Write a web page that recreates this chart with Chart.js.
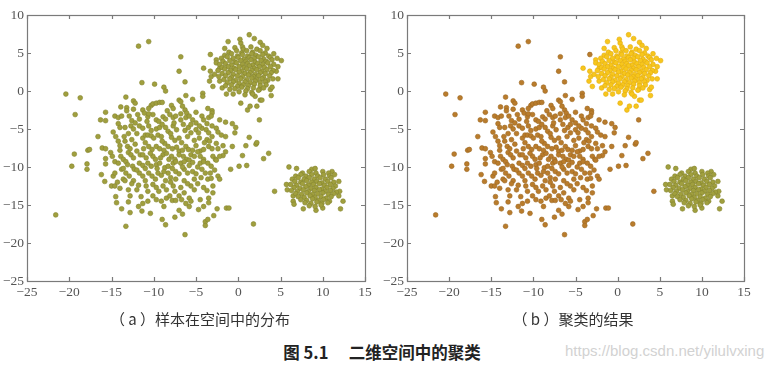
<!DOCTYPE html>
<html>
<head>
<meta charset="utf-8">
<script src="https://cdn.jsdelivr.net/npm/chart.js@4"></script>
<style>
  body { margin: 0; width: 771px; height: 371px; background: #fff; position: relative; overflow: hidden; }
  .panel { position: absolute; top: 0; }
  .cap { position: absolute; font-family: "Noto Sans CJK SC", sans-serif; font-size: 15px; color: #333; white-space: pre; transform: translateX(-50%); }
  #title { font-weight: bold; color: #222; font-size: 16.5px; }
  #mark { position: absolute; left: 565px; top: 342px; font-family: "Liberation Sans Narrow", "Liberation Sans", sans-serif; font-size: 15px; color: #d2d2d2; }
</style>
</head>
<body>
<div class="panel" style="left:0"><canvas id="chartA" width="380" height="310"></canvas></div>
<div class="panel" style="left:378px"><canvas id="chartB" width="393" height="310"></canvas></div>
<div class="cap" style="left:200px;top:308px">（ a ）样本在空间中的分布</div>
<div class="cap" style="left:573px;top:308px">（ b ）聚类的结果</div>
<div class="cap" id="title" style="left:382px;top:340px">图 5.1　 二维空间中的聚类</div>
<div id="mark">https://blog.csdn.net/yilulvxing</div>
<script>
const xTicks = [-25, -20, -15, -10, -5, 0, 5, 10, 15];
const yTicks = [-25, -20, -15, -10, -5, 0, 5, 10];

// large sparse cluster (brown in panel b)
const bigCluster = [
  [-21.6, -16.3], [-20.4, -0.4], [-18.7, -0.9], [-19.3, -3.1], [-19.4, -8.3], [-19.7, -9.9],
  [-17.8, -7.8], [-17.6, -7.7], [-17.9, -9.6], [-17.9, -10.3], [-11.8, 5.9], [-10.6, 6.5],
  [-6.8, 4.5], [-7.0, 2.6], [-6.3, 1.2], [-11.4, 1.1], [-9.9, 0.9], [-8.8, 0.5], [-8.6, 0.0],
  [-3.3, 4.8], [-4.2, -0.3], [-4.2, -0.7],
  [-16.6, -6.0], [-16.3, -3.8], [-15.7, -2.8], [-15.7, -3.9], [-16.1, -7.5], [-15.7, -7.6],
  [-15.7, -8.9], [-15.7, -9.6], [-16.2, -11.0], [-15.8, -11.9], [-15.0, -12.5], [-14.5, -13.9],
  [-14.4, -14.7], [-13.8, -15.5], [-13.3, -17.8], [-12.8, -16.0], [-11.5, -13.9], [-11.3, -14.8],
  [-11.4, -15.8], [-10.4, -16.1], [-9.0, -16.9], [-8.6, -17.6], [-9.1, -14.5], [-7.8, -14.4],
  [-7.4, -14.4], [-7.5, -16.6], [-7.0, -15.7], [-6.3, -18.9], [-6.6, -16.2], [-5.8, -15.2],
  [-4.7, -15.6], [-4.1, -15.2], [-3.9, -17.2], [-3.9, -17.7], [-3.6, -16.9], [-2.9, -16.4],
  [-2.5, -15.5], [-1.4, -15.4], [-1.1, -15.4], [1.8, -17.5], [4.3, -13.2], [-0.9, -10.3],
  [0.1, -9.9], [1.0, -9.8], [0.9, -7.2], [1.3, -6.1], [2.1, -7.0], [2.2, -6.8], [3.0, -8.9],
  [3.6, -8.2], [2.5, -3.8], [0.5, -8.5], [-0.7, -7.3], [-0.4, -5.5], [-0.3, -4.8], [-0.7, -4.3],
  [-1.5, -4.1], [-1.5, -6.0], [-1.8, -7.2], [-1.5, -8.0], [-1.8, -8.5],
  [-13.3, -0.8], [-12.4, -1.3], [-12.2, -1.6], [-13.9, -2.1], [-13.2, -2.2], [-13.2, -2.6],
  [-11.3, -2.5], [-10.3, -1.9], [-10.1, -1.7], [-9.7, -1.6], [-9.3, -1.5], [-9.0, -1.5],
  [-10.6, -2.3], [-7.9, -1.9], [-7.7, -2.3], [-7.0, -1.2], [-6.8, -1.4], [-6.2, -0.6],
  [-5.4, -1.1], [-6.3, -2.5], [-6.1, -2.9], [-3.1, -2.6], [-3.1, -2.9], [-3.6, -2.3],
  [-2.2, -3.8], [-14.6, -3.3], [-14.2, -3.5], [-13.8, -3.3],
  [-12.9, -3.3], [-12.6, -3.9], [-11.9, -3.1], [-11.7, -3.7], [-11.1, -2.9], [-10.7, -3.4],
  [-10.1, -3.1], [-9.7, -3.8], [-9.4, -4.0], [-8.9, -3.4], [-8.6, -3.7], [-8.1, -3.1],
  [-7.7, -3.5], [-7.4, -3.3], [-6.8, -3.0], [-6.2, -3.5], [-5.8, -3.3], [-5.4, -3.8],
  [-5.0, -4.2], [-4.3, -3.3], [-4.1, -3.8], [-3.5, -3.5], [-3.2, -3.3], [-3.7, -4.3],
  [-3.1, -4.6], [-4.3, -4.9], [-14.2, -4.3], [-14.0, -4.8], [-13.4, -4.8], [-12.7, -4.6],
  [-12.4, -5.0], [-11.7, -4.6], [-11.3, -4.9], [-10.6, -4.6], [-10.3, -5.2], [-9.7, -5.0],
  [-9.3, -4.8], [-8.6, -4.8], [-8.3, -5.3], [-7.7, -4.6], [-7.3, -5.1], [-6.5, -4.4],
  [-6.3, -5.2], [-5.9, -4.8], [-5.6, -5.5], [-5.0, -5.1], [-4.7, -5.5], [-3.8, -5.1],
  [-3.5, -5.5], [-2.6, -4.9], [-2.4, -5.4], [-3.1, -6.0], [-14.8, -5.4], [-14.5, -6.0],
  [-13.5, -6.0],
  [-14.2, -6.6], [-14.0, -7.2], [-13.4, -6.6], [-13.1, -7.3], [-12.6, -6.4], [-12.2, -7.0],
  [-12.0, -7.9], [-11.6, -8.4], [-11.3, -6.2], [-11.0, -5.8], [-10.7, -5.8], [-10.3, -5.9],
  [-10.0, -6.2], [-9.5, -5.8], [-9.1, -6.0], [-10.6, -7.3], [-10.2, -7.7], [-9.7, -7.3],
  [-9.3, -7.6], [-8.7, -6.9], [-8.3, -7.3], [-7.9, -6.1], [-7.5, -6.5], [-7.0, -6.2],
  [-6.7, -6.8], [-7.3, -7.4], [-7.0, -7.9], [-6.2, -7.3], [-5.9, -7.7], [-5.2, -6.5],
  [-5.0, -7.2], [-4.5, -7.9], [-4.1, -7.7], [-3.5, -7.3], [-3.1, -7.6], [-3.7, -6.4],
  [-3.4, -6.6], [-2.6, -6.9], [-2.4, -7.6], [-4.5, -8.6], [-4.1, -9.0], [-3.0, -8.6],
  [-2.7, -9.0], [-2.2, -8.6], [-15.1, -8.1], [-14.9, -8.6], [-13.9, -8.6], [-13.6, -9.0],
  [-13.0, -8.1], [-12.7, -8.4], [-11.3, -8.4], [-10.9, -8.8], [-10.1, -8.6], [-9.8, -9.0],
  [-8.9, -8.4], [-8.5, -8.2], [-7.9, -8.6], [-7.5, -9.0], [-6.5, -8.6], [-6.1, -9.0],
  [-5.6, -8.4], [-5.2, -8.6],
  [-14.6, -9.3], [-14.2, -9.5], [-13.3, -9.3], [-13.1, -9.7], [-12.5, -9.9], [-12.3, -10.3],
  [-13.8, -10.3], [-13.3, -10.8], [-12.9, -11.2], [-11.7, -9.5], [-11.3, -9.8], [-10.7, -9.5],
  [-10.3, -9.9], [-9.7, -9.7], [-9.3, -9.5], [-8.7, -10.1], [-8.3, -9.9], [-7.7, -9.5],
  [-7.4, -9.3], [-6.8, -9.5], [-6.4, -9.3], [-5.8, -9.1], [-5.4, -9.4], [-4.5, -9.5],
  [-4.1, -9.3], [-3.6, -9.5], [-3.2, -9.9], [-2.6, -9.1], [-11.7, -10.8], [-11.3, -11.2],
  [-10.6, -10.8], [-10.2, -11.2], [-9.5, -10.8], [-9.1, -11.1], [-8.3, -10.8], [-8.0, -11.4],
  [-7.4, -10.6], [-7.0, -10.9], [-6.4, -10.3], [-6.0, -10.8], [-5.4, -10.6], [-5.0, -10.9],
  [-4.3, -10.3], [-3.9, -10.8], [-3.3, -10.8], [-2.4, -11.2], [-2.2, -11.6], [-3.6, -11.6],
  [-3.2, -11.5], [-14.8, -11.2], [-14.6, -10.8], [-13.6, -11.6], [-13.4, -11.8],
  [-14.6, -12.5], [-14.3, -12.0], [-13.0, -13.0], [-12.8, -13.8], [-12.0, -13.0], [-10.9, -12.5],
  [-10.7, -13.2], [-10.1, -12.3], [-9.7, -12.7], [-8.9, -12.5], [-8.5, -13.0], [-7.7, -12.5],
  [-7.5, -13.2], [-6.8, -12.7], [-6.4, -13.4], [-5.6, -12.5], [-5.2, -13.0], [-4.1, -12.7],
  [-3.7, -13.1], [-3.0, -12.5], [-10.1, -13.8], [-9.7, -14.3], [-8.5, -14.1], [-8.1, -13.8],
  [-7.0, -13.8], [-6.7, -14.3], [-5.8, -14.1], [-5.6, -14.5], [-4.5, -14.3], [-3.5, -14.1],
  [-3.5, -14.7], [-10.7, -14.5],
  [-12.0, -5.6], [-11.0, -6.8], [-9.0, -6.6], [-8.0, -5.6], [-6.0, -6.0], [-4.6, -6.2],
  [-12.8, -7.6], [-11.2, -7.6], [-8.8, -7.8], [-7.8, -7.6], [-6.6, -7.8], [-5.4, -7.8],
  [-12.4, -8.8], [-10.4, -8.2], [-9.2, -8.8], [-8.2, -9.0], [-7.0, -8.4], [-5.8, -9.8],
  [-4.8, -8.0], [-12.0, -10.4], [-11.0, -10.2], [-9.6, -10.2], [-8.8, -10.6], [-7.8, -10.2],
  [-6.6, -10.0], [-4.8, -10.0], [-12.4, -11.8], [-11.0, -11.8], [-9.8, -11.6], [-8.6, -11.8],
  [-7.4, -11.6], [-6.4, -11.8], [-5.2, -11.6], [-4.4, -11.4], [-11.8, -12.4], [-9.4, -13.2],
  [-8.0, -12.0], [-6.0, -12.2], [-4.8, -12.2], [-10.8, -4.0], [-9.0, -4.4], [-7.6, -4.2],
  [-6.8, -3.8], [-5.6, -4.4], [-4.6, -4.6], [-12.2, -4.2], [-13.0, -5.6], [-14.0, -7.8],
  [-13.6, -10.2], [-10.6, -3.0], [-8.4, -2.6], [-6.6, -2.0], [-5.0, -2.8], [-12.4, -2.4],
  [-4.0, -6.8], [-2.0, -5.8], [-2.8, -10.4], [-3.0, -13.4], [-6.2, -14.8], [-8.8, -15.2],
  [-11.8, -15.2], [-13.0, -14.6], [-12.6, -12.2], [-14.0, -12.8]
];

// dense upper cluster (yellow in panel b)
const topCluster = [
  [1.3, 7.4], [-1.2, 6.5], [1.9, 6.9], [2.6, 6.4], [0.3, 6.3], [0.5, 5.8], [-2.6, 4.1],
  [-2.6, 3.7], [-4.1, 3.0], [-3.3, 2.6], [-3.4, 1.3], [-2.2, 3.0], [-3.0, 0.6], [-3.2, 1.9],
  [-2.2, 1.3], [-1.9, 0.4], [-1.0, 0.2], [-0.6, -0.4], [4.2, 4.9], [5.1, 4.0], [4.7, 3.2],
  [4.5, 2.6], [4.7, 1.6], [3.8, 0.2], [4.0, 0.5], [2.6, -1.2], [2.8, -1.2], [2.0, -0.7],
  [0.3, -1.6], [1.1, -2.5], [2.2, -2.0], [1.4, -2.0], [-1.6, 5.6], [3.4, 5.6], [-2.8, 2.2],
  [4.6, 4.3], [3.9, -0.6], [-1.4, -0.4], [0.2, 6.8], [2.9, 6.0],
  [-0.4, 5.7], [0.6, 5.5], [1.5, 5.8], [2.2, 5.5],
  [-1.1, 5.1], [-0.2, 5.3], [0.4, 5.0], [1.0, 5.3], [1.7, 5.1], [2.6, 5.3], [3.2, 5.0],
  [-1.6, 4.7], [-0.8, 4.9], [-0.1, 4.6], [0.5, 4.8], [1.1, 4.6], [1.6, 4.9], [2.1, 4.7], [2.9, 4.8], [3.6, 4.6],
  [-2.0, 4.3], [-1.3, 4.5], [-0.6, 4.3], [0.0, 4.4], [0.7, 4.2], [1.3, 4.4], [1.9, 4.3], [2.4, 4.5], [3.0, 4.2], [3.8, 4.4],
  [-1.8, 3.9], [-1.0, 4.0], [-0.4, 3.8], [0.3, 4.0], [0.9, 3.9], [1.5, 4.1], [2.0, 3.8], [2.7, 4.0], [3.3, 3.9], [4.0, 4.1],
  [-2.2, 3.5], [-1.5, 3.6], [-0.8, 3.4], [-0.2, 3.7], [0.5, 3.5], [1.1, 3.6], [1.7, 3.4], [2.3, 3.6], [2.9, 3.5], [3.5, 3.7], [4.2, 3.5],
  [-1.9, 3.1], [-1.2, 3.2], [-0.5, 3.0], [0.1, 3.2], [0.7, 3.1], [1.3, 3.3], [1.9, 3.0], [2.5, 3.2], [3.1, 3.1], [3.8, 3.2],
  [-2.4, 2.7], [-1.6, 2.9], [-0.9, 2.7], [-0.3, 2.8], [0.4, 2.6], [1.0, 2.9], [1.6, 2.7], [2.2, 2.8], [2.8, 2.6], [3.4, 2.8], [4.1, 2.7],
  [-1.9, 2.3], [-1.2, 2.4], [-0.6, 2.2], [0.1, 2.5], [0.8, 2.3], [1.4, 2.4], [2.0, 2.2], [2.6, 2.4], [3.2, 2.3], [3.9, 2.4],
  [-2.3, 1.9], [-1.5, 2.0], [-0.8, 1.8], [-0.1, 2.0], [0.5, 1.9], [1.2, 2.1], [1.8, 1.9], [2.4, 2.0], [3.0, 1.8], [3.7, 2.0],
  [-1.7, 1.5], [-1.0, 1.6], [-0.3, 1.4], [0.3, 1.6], [1.0, 1.5], [1.6, 1.7], [2.2, 1.5], [2.8, 1.6], [3.5, 1.4], [4.1, 1.6],
  [-1.3, 1.1], [-0.6, 1.2], [0.1, 1.0], [0.8, 1.2], [1.4, 1.1], [2.0, 1.3], [2.6, 1.1], [3.2, 1.2],
  [-1.5, 0.7], [-0.8, 0.8], [-0.1, 0.6], [0.6, 0.8], [1.2, 0.7], [1.9, 0.9], [2.6, 0.7], [3.3, 0.8],
  [-0.4, 0.3], [0.4, 0.5], [1.1, 0.3], [1.8, 0.4], [2.5, 0.2], [3.0, 0.4],
  [0.1, -0.1], [0.9, 0.0], [1.6, -0.2], [2.4, 0.1], [0.8, -0.5], [1.7, -0.4]
];

// dense lower-right cluster (olive in both panels)
const rightCluster = [
  [6.0, -10.0], [5.7, -12.3], [5.8, -13.0], [6.5, -13.8], [6.5, -14.5], [6.6, -14.9], [7.7, -15.5],
  [9.2, -15.7], [10.0, -15.4], [12.1, -15.5], [12.4, -14.5], [11.9, -13.8], [12.0, -13.2],
  [11.9, -11.9], [11.1, -10.6], [8.7, -10.3], [6.9, -10.2], [9.1, -10.2],
  [7.6, -10.8], [8.4, -10.6], [9.2, -10.8], [10.0, -10.6], [10.7, -10.8],
  [6.8, -11.2], [7.4, -11.0], [8.0, -11.2], [8.7, -11.0], [9.4, -11.2], [10.1, -11.0], [10.8, -11.2], [11.4, -11.0],
  [6.4, -11.6], [7.1, -11.4], [7.8, -11.6], [8.4, -11.4], [9.0, -11.6], [9.7, -11.4], [10.3, -11.6], [11.0, -11.4],
  [6.7, -11.9], [7.4, -12.0], [8.1, -11.8], [8.7, -12.0], [9.3, -11.9], [9.9, -12.1], [10.6, -11.9], [11.3, -12.0],
  [6.2, -12.3], [6.9, -12.4], [7.6, -12.2], [8.3, -12.4], [8.9, -12.3], [9.6, -12.2], [10.2, -12.4], [10.9, -12.3], [11.5, -12.5],
  [6.6, -12.7], [7.3, -12.8], [8.0, -12.6], [8.6, -12.8], [9.2, -12.7], [9.9, -12.9], [10.5, -12.7], [11.2, -12.8],
  [6.3, -13.1], [7.0, -13.2], [7.7, -13.0], [8.3, -13.2], [9.0, -13.1], [9.6, -13.0], [10.3, -13.2], [10.9, -13.1], [11.6, -13.3],
  [6.8, -13.5], [7.5, -13.6], [8.1, -13.4], [8.8, -13.6], [9.4, -13.5], [10.0, -13.4], [10.7, -13.6], [11.3, -13.5],
  [7.1, -13.9], [7.8, -14.0], [8.5, -13.8], [9.1, -14.0], [9.8, -13.9], [10.4, -14.1], [11.0, -13.9],
  [7.4, -14.3], [8.1, -14.4], [8.8, -14.2], [9.5, -14.4], [10.1, -14.3], [10.8, -14.5],
  [7.9, -14.7], [8.6, -14.8], [9.3, -14.6], [9.9, -14.8], [10.6, -14.7],
  [8.4, -15.1], [9.1, -15.2], [9.8, -15.0]
];

const olive = '#a09f3e';
const oliveEdge = '#85842f';
const brown = '#b97c2c';
const brownEdge = '#9c6620';
const yellow = '#f7c61c';
const yellowEdge = '#e2ad12';

Chart.defaults.font.family = "'Liberation Serif', 'Times New Roman', serif";

const toPts = arr => arr.map(p => ({ x: p[0], y: p[1] }));

const boxTicks = {
  id: 'boxTicks',
  afterDraw(chart) {
    const { ctx, chartArea: a, scales: { x, y } } = chart;
    ctx.save();
    ctx.strokeStyle = '#7a7a7a';
    ctx.lineWidth = 1.2;
    ctx.strokeRect(a.left + 0.5, a.top + 0.5, a.right - a.left, a.bottom - a.top);
    ctx.beginPath();
    x.ticks.forEach(t => {
      const px = Math.round(x.getPixelForValue(t.value)) + 0.5;
      ctx.moveTo(px, a.bottom); ctx.lineTo(px, a.bottom - 4);
      ctx.moveTo(px, a.top); ctx.lineTo(px, a.top + 4);
    });
    y.ticks.forEach(t => {
      const py = Math.round(y.getPixelForValue(t.value)) + 0.5;
      ctx.moveTo(a.left, py); ctx.lineTo(a.left + 4, py);
      ctx.moveTo(a.right, py); ctx.lineTo(a.right - 4, py);
    });
    ctx.stroke();
    ctx.restore();
  }
};

function makeChart(id, datasets, yWidth, rightPad) {
  const tickFont = { family: "'Liberation Serif', 'Times New Roman', serif", size: 13.5 };
  const fmt = v => String(v).replace('-', '\u2212');
  return new Chart(document.getElementById(id), {
    type: 'scatter',
    data: { datasets },
    options: {
      responsive: false,
      animation: false,
      layout: { padding: { top: 15, right: rightPad, left: 0, bottom: 0 } },
      plugins: { legend: { display: false }, tooltip: { enabled: false } },
      elements: { point: { radius: 2.4, borderWidth: 0.6 } },
      scales: {
        x: {
          type: 'linear', min: -25, max: 15,
          afterBuildTicks: s => { s.ticks = xTicks.map(v => ({ value: v })); },
          afterFit: s => { s.height = 29; },
          grid: { display: false, drawTicks: false },
          border: { display: false },
          ticks: { font: tickFont, color: '#555', padding: 3, maxRotation: 0, callback: fmt }
        },
        y: {
          type: 'linear', min: -25, max: 10,
          afterBuildTicks: s => { s.ticks = yTicks.map(v => ({ value: v })); },
          afterFit: s => { s.width = yWidth; },
          grid: { display: false, drawTicks: false },
          border: { display: false },
          ticks: { font: tickFont, color: '#555', padding: 3, callback: fmt }
        }
      }
    },
    plugins: [boxTicks]
  });
}

const ds = (arr, bg, edge) => ({ data: toPts(arr), backgroundColor: bg, borderColor: edge });

makeChart('chartA', [
  ds(bigCluster, olive, oliveEdge),
  ds(topCluster, olive, oliveEdge),
  ds(rightCluster, olive, oliveEdge)
], 27, 15);

makeChart('chartB', [
  ds(bigCluster, brown, brownEdge),
  ds(topCluster, yellow, yellowEdge),
  ds(rightCluster, olive, oliveEdge)
], 29, 27);
</script>
</body>
</html>
